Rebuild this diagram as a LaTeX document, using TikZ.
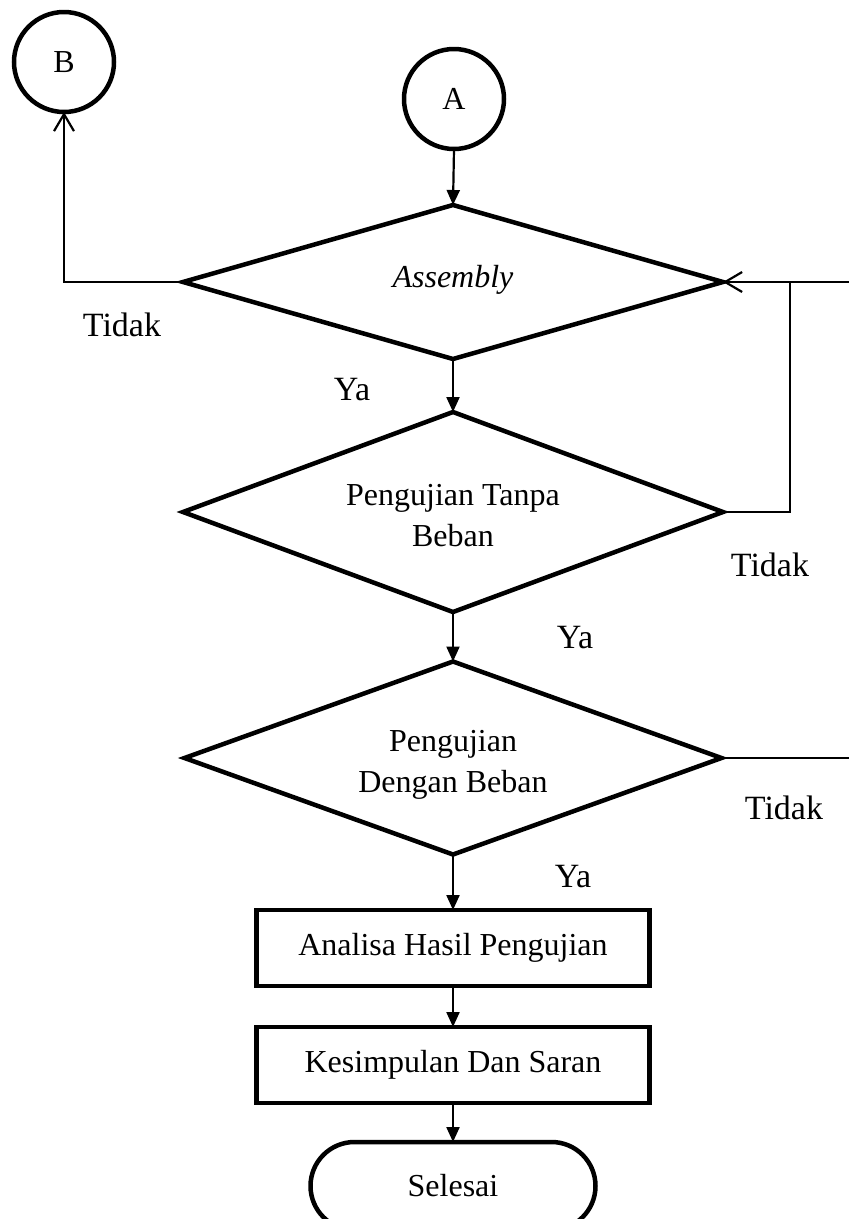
\documentclass[tikz,border=0pt]{standalone}
\usepackage{fontspec}
\setmainfont{Liberation Serif}
\usetikzlibrary{arrows.meta,shapes.geometric,shapes.misc}

\begin{document}
\begin{tikzpicture}[x=1pt,y=-1pt,
  every node/.style={font=\fontsize{32}{41}\selectfont},
  thickshape/.style={draw,line width=4.5pt,inner sep=0pt,outer sep=0pt},
  decbox/.style={thickshape,shape=diamond},
  procbox/.style={thickshape,rectangle,minimum width=393pt,minimum height=76pt},
  conncircle/.style={thickshape,circle,minimum size=100pt},
  conn/.style={line width=2.2pt},
  fwd/.style={conn,-{Triangle[length=15pt,width=13pt]}},
  back/.style={conn,-{Straight Barb[length=17pt,width=20pt]}},
  lbl/.style={inner sep=0pt,font=\fontsize{34}{41}\selectfont}]
\useasboundingbox (0,0) rectangle (849,1219);
\clip (0,0) rectangle (849,1219);

\node[conncircle] (B) at (64,62) {B};
\node[conncircle] (A) at (454,99) {A};

\node[decbox,minimum width=540pt,minimum height=154pt] (d1) at (453,282) {};
\node[inner sep=0pt] (t1) at (453,280) {\textit{Assembly}};

\node[decbox,minimum width=540pt,minimum height=200pt] (d2) at (453,512) {};
\node[inner sep=0pt,align=center] (t2) at (453,516) {Pengujian Tanpa\\Beban};

\node[decbox,minimum width=537pt,minimum height=193pt] (d3) at (453,758) {};
\node[inner sep=0pt,align=center] (t3) at (453,765) {Pengujian\\Dengan Beban};

\node[procbox] (p1) at (453,948) {Analisa Hasil Pengujian};
\node[procbox] (p2) at (453,1065) {Kesimpulan Dan Saran};
\node[thickshape,rounded rectangle,minimum width=285pt,minimum height=88pt] (end) at (453,1186) {Selesai};

\coordinate (r1) at (849,282);
\coordinate (j) at (790,282);
\coordinate (r3) at (849,758);

\draw[fwd] (A.south) -- (d1.north);
\draw[fwd] (d1.south) -- (d2.north);
\draw[fwd] (d2.south) -- (d3.north);
\draw[fwd] (d3.south) -- (p1.north);
\draw[fwd] (p1.south) -- (p2.north);
\draw[fwd] (p2.south) -- (end.north);

\draw[back] (d1.west) -| (B.south);
\draw[back] (r1) -- (d1.east);
\draw[conn] (d2.east) -| (j);
\draw[conn] (d3.east) -- (r3);

\node[lbl] (l1) at (122,325) {Tidak};
\node[lbl] (l2) at (352,390) {Ya};
\node[lbl] (l3) at (770,565) {Tidak};
\node[lbl] (l4) at (575,638) {Ya};
\node[lbl] (l5) at (784,808) {Tidak};
\node[lbl] (l6) at (573,877) {Ya};
\end{tikzpicture}
\end{document}
